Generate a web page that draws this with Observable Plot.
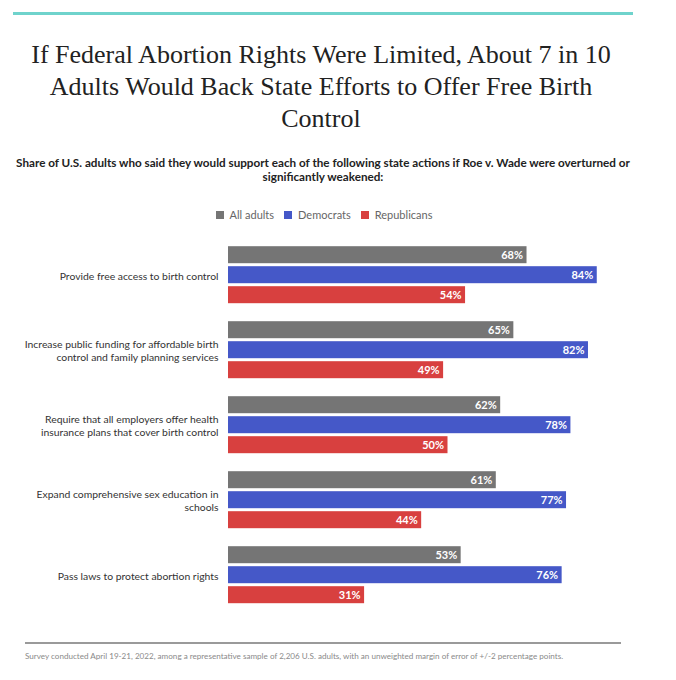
<!DOCTYPE html>
<html>
<head>
<meta charset="utf-8">
<script src="https://cdn.jsdelivr.net/npm/d3@7"></script>
<script src="https://cdn.jsdelivr.net/npm/@observablehq/plot@0.6"></script>
<style>
  html, body { margin: 0; padding: 0; background: #fff; }
  #page { position: relative; width: 676px; height: 680px; overflow: hidden; font-family: Lato, "Open Sans", sans-serif; }
  #topline { position: absolute; left: 13px; top: 12px; width: 620px; height: 3px; background: #6fd3cc; }
  #title { position: absolute; left: 0; top: 39px; width: 642px; text-align: center; font-family: "Liberation Serif", "DejaVu Serif", serif; font-size: 26px; line-height: 32px; color: #222; }
  #subtitle { position: absolute; left: 0; top: 155px; width: 646px; text-align: center; font-weight: bold; font-size: 11.7px; line-height: 14px; color: #222; }
  #legend { position: absolute; top: 208px; left: 0; width: 648px; text-align: center; font-size: 11px; color: #666; }
  #legend span.item { display: inline-block; margin: 0 5px; }
  #legend span.sw { display: inline-block; width: 8px; height: 8px; margin-right: 6px; }
  #chart { position: absolute; left: 0; top: 230px; }
  #footline { position: absolute; left: 25px; top: 642px; width: 596px; height: 2px; background: #9a9a9a; }
  #caption { position: absolute; left: 25px; top: 651px; font-size: 8.1px; color: #8a8a8a; }
</style>
</head>
<body>
<div id="page">
  <div id="topline"></div>
  <div id="title">If Federal Abortion Rights Were Limited, About 7 in 10<br>Adults Would Back State Efforts to Offer Free Birth<br>Control</div>
  <div id="subtitle">Share of U.S. adults who said they would support each of the following state actions if Roe v. Wade were overturned or<br>significantly weakened:</div>
  <div id="legend"></div>
  <div id="chart"></div>
  <div id="footline"></div>
  <div id="caption">Survey conducted April 19-21, 2022, among a representative sample of 2,206 U.S. adults, with an unweighted margin of error of +/-2 percentage points.</div>
</div>
<script>
const actions = [
  "Provide free access to birth control",
  "Increase public funding for affordable birth\ncontrol and family planning services",
  "Require that all employers offer health\ninsurance plans that cover birth control",
  "Expand comprehensive sex education in\nschools",
  "Pass laws to protect abortion rights"
];
const series = ["All adults", "Democrats", "Republicans"];
const colors = ["#757575", "#4558c8", "#d8403f"];
const allAdults = [68, 65, 62, 61, 53];
const democrats = [84, 82, 78, 77, 76];
const republicans = [54, 49, 50, 44, 31];

const values = [allAdults, democrats, republicans];
const data = [];
actions.forEach((a, i) => {
  series.forEach((s, j) => data.push({action: a, series: s, value: values[j][i]}));
});

// legend
const legend = document.getElementById("legend");
series.forEach((s, j) => {
  const item = document.createElement("span");
  item.className = "item";
  item.innerHTML = `<span class="sw" style="background:${colors[j]}"></span>${s}`;
  legend.appendChild(item);
});

const chart = Plot.plot({
  width: 676,
  height: 386,
  marginLeft: 228,
  marginRight: 9,
  marginTop: 5.8,
  marginBottom: 4.7,
  style: {fontFamily: "Lato, sans-serif", background: "transparent"},
  x: {domain: [0, 100], axis: null},
  y: {domain: series, axis: null, paddingInner: 0.17, paddingOuter: 0.085},
  fy: {domain: actions, axis: null, paddingInner: 0.1745, paddingOuter: 0.0873},
  color: {domain: series, range: colors},
  marks: [
    Plot.barX(data, {fy: "action", y: "series", x: "value", fill: "series"}),
    Plot.text(data, {fy: "action", y: "series", x: "value", text: d => d.value + "%", textAnchor: "end", dx: -4, fill: "white", fontWeight: "bold", fontSize: 11}),
    Plot.text(actions, {fy: d => d, y: () => "Democrats", x: () => 0, text: d => d, textAnchor: "end", dx: -10, fill: "#333", fontSize: 10.4, lineHeight: 1.32})
  ]
});
document.getElementById("chart").appendChild(chart);
</script>
</body>
</html>
